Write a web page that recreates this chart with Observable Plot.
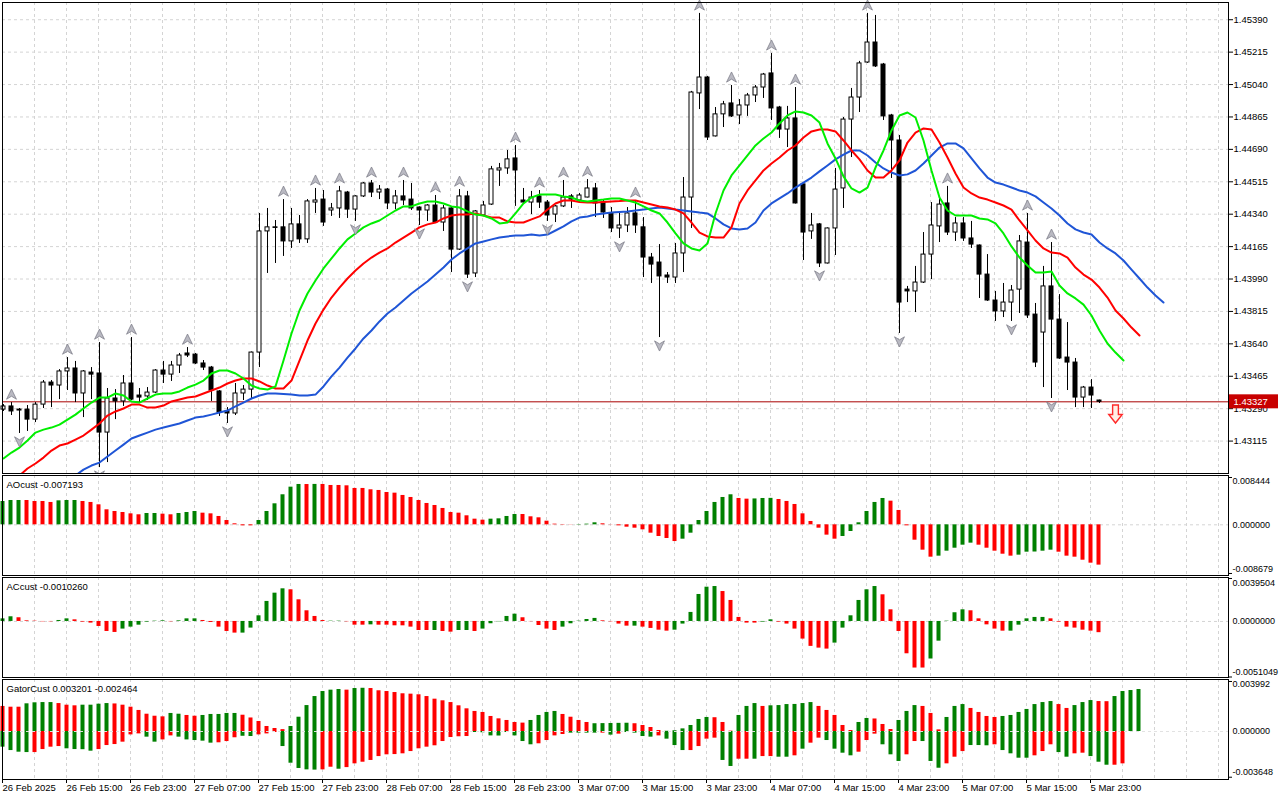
<!DOCTYPE html>
<html><head><meta charset="utf-8">
<script src="https://cdn.jsdelivr.net/npm/d3@7"></script>
<script src="https://cdn.jsdelivr.net/npm/@observablehq/plot@0.6"></script>
<style>
html,body{margin:0;padding:0;background:#fff;}
#chart{width:1280px;height:800px;overflow:hidden;position:relative;}
#chart svg{display:block;overflow:visible;}
</style></head><body><div id="chart"></div>
<script>
// ---- time axis ----
const xLabels = ["26 Feb 2025","26 Feb 15:00","26 Feb 23:00","27 Feb 07:00","27 Feb 15:00","27 Feb 23:00","28 Feb 07:00","28 Feb 15:00","28 Feb 23:00","3 Mar 07:00","3 Mar 15:00","3 Mar 23:00","4 Mar 07:00","4 Mar 15:00","4 Mar 23:00","5 Mar 07:00","5 Mar 15:00","5 Mar 23:00"];
const xLabelBars = [0,8,16,24,32,40,48,56,64,72,80,88,96,104,112,120,128,136];
// ---- price axis ----
const priceTicks = ["1.43115","1.43290","1.43465","1.43640","1.43815","1.43990","1.44165","1.44340","1.44515","1.44690","1.44865","1.45040","1.45215","1.45390"];
const lastPrice = 1.43327;
// ---- candles (H1) ----
const open = [1.43285,1.43302,1.43285,1.43285,1.43231,1.43312,1.43431,1.43415,1.43491,1.43507,
1.43372,1.43485,1.43480,1.43161,1.43345,1.43329,1.43426,1.43361,1.43356,1.43377,
1.43496,1.43474,1.43523,1.43588,1.43582,1.43534,1.43512,1.43383,1.43275,1.43264,
1.43372,1.43393,1.43593,1.44247,1.44269,1.44269,1.44193,1.44285,1.44204,1.44403,
1.44419,1.44360,1.44371,1.44457,1.44365,1.44436,1.44506,1.44457,1.44473,1.44398,
1.44436,1.44419,1.44376,1.44360,1.44387,1.44295,1.44371,1.44149,1.44436,1.44020,
1.44333,1.44392,1.44576,1.44587,1.44641,1.44414,1.44403,1.44436,1.44403,1.44338,
1.44382,1.44436,1.44414,1.44430,1.44479,1.44403,1.44344,1.44263,1.44279,1.44344,
1.44269,1.44106,1.44079,1.44009,1.43998,1.44128,1.44430,1.44992,1.45078,1.44760,
1.44879,1.44938,1.44873,1.44927,1.44981,1.45024,1.45100,1.44916,1.44797,1.44857,
1.44501,1.44247,1.44285,1.44074,1.44263,1.44479,1.44851,1.44970,1.45159,1.45267,
1.45148,1.44873,1.44738,1.43933,1.43923,1.43971,1.44122,1.44274,1.44398,1.44241,
1.44290,1.44209,1.44171,1.44014,1.43874,1.43815,1.43863,1.43933,1.44187,1.43798,
1.43701,1.43950,1.43771,1.43566,1.43539,1.43350,1.43404,1.43334];
const high = [1.43312,1.43323,1.43291,1.43307,1.43323,1.43442,1.43442,1.43501,1.43566,1.43545,
1.43496,1.43512,1.43647,1.43399,1.43393,1.43469,1.43674,1.43399,1.43404,1.43501,
1.43545,1.43545,1.43588,1.43620,1.43588,1.43550,1.43518,1.43388,1.43296,1.43426,
1.43415,1.43596,1.44344,1.44371,1.44306,1.44419,1.44371,1.44333,1.44419,1.44479,
1.44468,1.44398,1.44490,1.44463,1.44440,1.44511,1.44522,1.44495,1.44479,1.44468,
1.44522,1.44506,1.44380,1.44392,1.44441,1.44387,1.44376,1.44473,1.44463,1.44360,
1.44409,1.44598,1.44614,1.44684,1.44711,1.44479,1.44463,1.44468,1.44414,1.44387,
1.44522,1.44446,1.44452,1.44527,1.44506,1.44414,1.44376,1.44344,1.44376,1.44414,
1.44322,1.44128,1.44176,1.44025,1.44182,1.44538,1.45003,1.45424,1.45084,1.44916,
1.44949,1.45035,1.44959,1.44992,1.45035,1.45100,1.45208,1.44922,1.44922,1.45024,
1.44504,1.44344,1.44290,1.44266,1.44587,1.44862,1.45019,1.45165,1.45424,1.45413,
1.45154,1.44879,1.44765,1.43950,1.44058,1.44241,1.44403,1.44430,1.44490,1.44322,
1.44322,1.44301,1.44174,1.44122,1.43923,1.43966,1.43955,1.44225,1.44344,1.43858,
1.44058,1.44187,1.43906,1.43755,1.43561,1.43410,1.43447,1.43336];
const low = [1.43275,1.43253,1.43156,1.43167,1.43215,1.43291,1.43296,1.43339,1.43388,1.43323,
1.43242,1.43339,1.42972,1.42999,1.43231,1.43302,1.43334,1.43318,1.43334,1.43372,
1.43426,1.43437,1.43480,1.43566,1.43528,1.43496,1.43329,1.43248,1.43210,1.43253,
1.43334,1.43339,1.43512,1.44020,1.44074,1.44112,1.44155,1.44182,1.44182,1.44344,
1.44274,1.44328,1.44317,1.44317,1.44301,1.44430,1.44430,1.44419,1.44365,1.44365,
1.44387,1.44360,1.44279,1.44301,1.44290,1.44247,1.44025,1.44144,1.43993,1.43998,
1.44330,1.44387,1.44490,1.44555,1.44382,1.44398,1.44338,1.44371,1.44301,1.44295,
1.44376,1.44371,1.44398,1.44428,1.44322,1.44317,1.44241,1.44209,1.44241,1.44236,
1.43998,1.43966,1.43674,1.43966,1.43966,1.44025,1.44263,1.44905,1.44738,1.44757,
1.44808,1.44862,1.44824,1.44868,1.44943,1.44965,1.44846,1.44749,1.44700,1.44395,
1.44090,1.44204,1.44052,1.44071,1.44117,1.44371,1.44646,1.44889,1.45154,1.45132,
1.44846,1.44533,1.43696,1.43863,1.43809,1.43966,1.43987,1.44187,1.44225,1.44193,
1.44193,1.44155,1.43885,1.43869,1.43761,1.43782,1.43761,1.43804,1.43777,1.43512,
1.43404,1.43345,1.43556,1.43388,1.43296,1.43296,1.43291,1.43318];
const close = [1.43302,1.43275,1.43280,1.43231,1.43312,1.43431,1.43415,1.43491,1.43507,1.43372,
1.43491,1.43474,1.43161,1.43345,1.43329,1.43426,1.43339,1.43350,1.43377,1.43496,
1.43474,1.43523,1.43577,1.43577,1.43534,1.43512,1.43388,1.43269,1.43264,1.43372,
1.43393,1.43593,1.44247,1.44269,1.44266,1.44193,1.44285,1.44204,1.44409,1.44414,
1.44295,1.44371,1.44463,1.44365,1.44436,1.44506,1.44457,1.44473,1.44398,1.44436,
1.44414,1.44371,1.44360,1.44387,1.44295,1.44371,1.44149,1.44436,1.44014,1.44355,
1.44387,1.44582,1.44587,1.44636,1.44576,1.44403,1.44430,1.44403,1.44333,1.44382,
1.44430,1.44419,1.44441,1.44479,1.44398,1.44349,1.44263,1.44279,1.44344,1.44279,
1.44106,1.44068,1.44004,1.43998,1.44128,1.44430,1.44997,1.45078,1.44754,1.44879,
1.44933,1.44868,1.44927,1.44981,1.45024,1.45094,1.44911,1.44797,1.44857,1.44398,
1.44241,1.44279,1.44074,1.44263,1.44473,1.44851,1.44970,1.45154,1.45267,1.45138,
1.44868,1.44738,1.43863,1.43923,1.43971,1.44122,1.44279,1.44392,1.44241,1.44290,
1.44209,1.44176,1.44014,1.43874,1.43815,1.43863,1.43928,1.44193,1.43793,1.43539,
1.43950,1.43771,1.43561,1.43539,1.43350,1.43404,1.43361,1.43327];
// ---- Alligator (jaw / teeth / lips, already shifted) ----
const jawStart = 9;
const jaw = [1.42929,1.42961,1.42983,1.42999,1.43032,1.43064,1.43096,1.43129,1.43145,1.43161,
1.43177,1.43188,1.43199,1.43210,1.43226,1.43242,1.43248,1.43258,1.43269,1.43280,
1.43302,1.43323,1.43345,1.43361,1.43372,1.43372,1.43369,1.43366,1.43361,1.43361,
1.43366,1.43410,1.43464,1.43512,1.43566,1.43615,1.43669,1.43712,1.43761,1.43804,
1.43836,1.43874,1.43912,1.43944,1.43977,1.44014,1.44052,1.44095,1.44128,1.44155,
1.44182,1.44193,1.44204,1.44214,1.44220,1.44225,1.44225,1.44230,1.44225,1.44230,
1.44252,1.44274,1.44301,1.44322,1.44328,1.44338,1.44344,1.44349,1.44352,1.44355,
1.44360,1.44365,1.44371,1.44376,1.44371,1.44365,1.44360,1.44355,1.44349,1.44344,
1.44317,1.44285,1.44263,1.44258,1.44263,1.44295,1.44360,1.44398,1.44425,1.44452,
1.44484,1.44511,1.44538,1.44571,1.44603,1.44636,1.44662,1.44684,1.44684,1.44657,
1.44619,1.44587,1.44565,1.44549,1.44555,1.44576,1.44614,1.44657,1.44700,1.44722,
1.44722,1.44695,1.44641,1.44587,1.44538,1.44511,1.44500,1.44484,1.44468,1.44457,
1.44436,1.44403,1.44371,1.44333,1.44290,1.44258,1.44241,1.44230,1.44187,1.44155,
1.44128,1.44090,1.44041,1.43993,1.43944,1.43901,1.43863];
const teethStart = 2;
const teeth = [1.42929,1.42967,1.42994,1.43026,1.43064,1.43091,1.43102,1.43123,1.43145,1.43177,
1.43210,1.43253,1.43275,1.43291,1.43312,1.43312,1.43296,1.43296,1.43307,1.43329,
1.43339,1.43350,1.43356,1.43372,1.43388,1.43404,1.43426,1.43442,1.43453,1.43453,
1.43437,1.43415,1.43399,1.43399,1.43442,1.43550,1.43658,1.43750,1.43825,1.43890,
1.43944,1.43993,1.44036,1.44074,1.44106,1.44133,1.44155,1.44187,1.44214,1.44241,
1.44269,1.44285,1.44295,1.44317,1.44333,1.44338,1.44338,1.44344,1.44333,1.44322,
1.44322,1.44301,1.44295,1.44295,1.44312,1.44328,1.44365,1.44398,1.44414,1.44414,
1.44406,1.44403,1.44403,1.44406,1.44409,1.44411,1.44414,1.44414,1.44403,1.44392,
1.44382,1.44376,1.44365,1.44344,1.44295,1.44241,1.44220,1.44214,1.44214,1.44269,
1.44398,1.44468,1.44522,1.44576,1.44614,1.44646,1.44684,1.44711,1.44754,1.44787,
1.44797,1.44797,1.44787,1.44738,1.44684,1.44636,1.44576,1.44538,1.44538,1.44576,
1.44630,1.44727,1.44781,1.44803,1.44797,1.44727,1.44646,1.44560,1.44484,1.44452,
1.44430,1.44419,1.44403,1.44387,1.44365,1.44306,1.44252,1.44198,1.44155,1.44133,
1.44128,1.44106,1.44052,1.44014,1.43987,1.43944,1.43890,1.43820,1.43777,1.43728,
1.43685];
const lipsStart = 0;
const lips = [1.43021,1.43053,1.43080,1.43118,1.43161,1.43177,1.43188,1.43204,1.43231,1.43258,
1.43291,1.43323,1.43350,1.43350,1.43372,1.43361,1.43329,1.43323,1.43345,1.43366,
1.43372,1.43372,1.43383,1.43404,1.43420,1.43442,1.43480,1.43496,1.43496,1.43480,
1.43453,1.43415,1.43399,1.43393,1.43410,1.43550,1.43696,1.43820,1.43912,1.43982,
1.44047,1.44101,1.44155,1.44204,1.44236,1.44269,1.44290,1.44306,1.44333,1.44360,
1.44382,1.44382,1.44398,1.44409,1.44409,1.44398,1.44382,1.44376,1.44355,1.44338,
1.44333,1.44317,1.44290,1.44295,1.44344,1.44398,1.44430,1.44446,1.44446,1.44446,
1.44436,1.44430,1.44414,1.44409,1.44414,1.44419,1.44425,1.44425,1.44414,1.44403,
1.44382,1.44360,1.44344,1.44295,1.44236,1.44182,1.44155,1.44144,1.44182,1.44344,
1.44468,1.44549,1.44603,1.44657,1.44711,1.44749,1.44781,1.44830,1.44873,1.44895,
1.44889,1.44873,1.44835,1.44722,1.44641,1.44544,1.44479,1.44457,1.44484,1.44592,
1.44684,1.44792,1.44873,1.44889,1.44862,1.44738,1.44576,1.44430,1.44360,1.44333,
1.44333,1.44333,1.44317,1.44312,1.44290,1.44236,1.44166,1.44106,1.44063,1.44025,
1.44025,1.44031,1.43955,1.43912,1.43885,1.43852,1.43793,1.43712,1.43642,1.43593,
1.43550];
// ---- fractals & signal ----
const fractalUp = [1,8,12,16,23,35,39,42,46,50,54,57,64,67,70,73,79,87,91,96,99,108,118,128,131];
const fractalDown = [2,12,28,44,52,58,68,77,82,102,112,126,131];
const signalBar = 139, signalPrice = 1.43261;
// ---- AO ----
const aoLabel = "AOcust -0.007193";
const aoScale = ["0.008444","0.000000","-0.008679"];
const ao = [0.00416,0.00434,0.00434,0.00434,0.00416,0.00416,0.00399,0.00428,0.00434,0.00434,
0.00416,0.00399,0.00357,0.00268,0.00238,0.00220,0.00196,0.00179,0.00202,0.00202,
0.00190,0.00179,0.00202,0.00220,0.00238,0.00208,0.00196,0.00149,0.00077,0.00018,
-0.00018,-0.00018,0.00077,0.00238,0.00375,0.00536,0.00672,0.00720,0.00719,0.00721,
0.00720,0.00702,0.00702,0.00696,0.00649,0.00649,0.00625,0.00613,0.00577,0.00565,
0.00524,0.00488,0.00434,0.00381,0.00345,0.00292,0.00220,0.00208,0.00161,0.00101,
0.00083,0.00101,0.00107,0.00149,0.00184,0.00184,0.00143,0.00125,0.00065,0.00012,
0.00006,0.00003,0.00006,0.00012,0.00036,0.00018,-0.00003,-0.00018,-0.00042,-0.00060,
-0.00089,-0.00149,-0.00208,-0.00244,-0.00298,-0.00256,-0.00149,0.00077,0.00238,0.00399,
0.00488,0.00536,0.00470,0.00458,0.00462,0.00470,0.00472,0.00452,0.00417,0.00363,
0.00196,0.00060,-0.00060,-0.00184,-0.00256,-0.00208,-0.00119,0.00036,0.00238,0.00399,
0.00470,0.00422,0.00256,-0.00018,-0.00274,-0.00452,-0.00577,-0.00559,-0.00470,-0.00417,
-0.00363,-0.00327,-0.00363,-0.00417,-0.00470,-0.00524,-0.00559,-0.00541,-0.00488,-0.00485,
-0.00470,-0.00452,-0.00488,-0.00559,-0.00577,-0.00631,-0.00684,-0.00719];
const aoColors = "GGGRRRRGGG"+"RRRRRRRRGG"+"RRGGGRRRRR"+"RRGGGGGGRG"+"RRRRRRRRRR"+"RRRRRRRRRR"+"RGGGGRRRRR"+"RRGGGRRRRR"+"RRRRRGGGGG"+"GGRRGGGRRR"+"RRRRRGGGGG"+"GRRRRRRGGG"+"GGRRRRRGGG"+"GGRRRRRR";
// ---- AC ----
const acLabel = "ACcust -0.0010260";
const acScale = ["0.0039504","0.0000000","-0.0051049"];
const ac = [0.00024,0.00043,0.00034,0.00006,0.00003,-0.00003,-0.00003,0.00009,0.00024,0.00015,
-0.00006,-0.00015,-0.00046,-0.00092,-0.00101,-0.00070,-0.00052,-0.00034,-0.00006,0.00003,
0.00006,-0.00003,0.00006,0.00024,0.00024,0.00009,-0.00009,-0.00052,-0.00092,-0.00107,
-0.00107,-0.00061,0.00052,0.00184,0.00260,0.00300,0.00291,0.00199,0.00098,0.00046,
0.00009,0.00003,0.00003,-0.00003,-0.00034,-0.00034,-0.00031,-0.00034,-0.00034,-0.00040,
-0.00040,-0.00052,-0.00083,-0.00083,-0.00083,-0.00092,-0.00098,-0.00083,-0.00083,-0.00092,
-0.00070,-0.00021,-0.00003,0.00046,0.00067,0.00034,-0.00002,-0.00037,-0.00070,-0.00083,
-0.00052,-0.00021,0.00003,0.00018,0.00028,0.00006,-0.00003,-0.00024,-0.00043,-0.00043,
-0.00052,-0.00064,-0.00080,-0.00089,-0.00080,-0.00024,0.00083,0.00248,0.00315,0.00321,
0.00275,0.00193,0.00037,-0.00015,-0.00015,-0.00006,0.00015,-0.00006,-0.00024,-0.00070,
-0.00162,-0.00229,-0.00245,-0.00254,-0.00199,-0.00061,0.00052,0.00193,0.00291,0.00321,
0.00245,0.00107,-0.00092,-0.00297,-0.00428,-0.00428,-0.00345,-0.00181,0.00003,0.00080,
0.00107,0.00098,0.00024,-0.00031,-0.00070,-0.00089,-0.00089,-0.00034,0.00024,0.00037,
0.00037,0.00024,-0.00006,-0.00052,-0.00061,-0.00080,-0.00089,-0.00103];
const acColors = "GGRRRRRGGR"+"RRRRRGGGGG"+"GRGGGRRRRR"+"GGGGGGRRRR"+"RGGRRRGRRR"+"RRRRGRRGGR"+"GGGGGRRRRR"+"GGGGGRRRRG"+"RRRRGGGGGG"+"RRRRRGGRRR"+"RRRRGGGGGG"+"RRRRRRGGGG"+"GRRRRRGGGG"+"GRRRRRRR";
// ---- Gator ----
const gatorLabel = "GatorCust 0.003201 -0.002464";
const gatorScale = ["0.003992","0.000000","-0.003648"];
const gatorUp = [0.00200,0.00194,0.00194,0.00221,0.00229,0.00231,0.00231,0.00223,0.00210,0.00205,
0.00210,0.00210,0.00218,0.00223,0.00220,0.00210,0.00194,0.00168,0.00138,0.00122,
0.00117,0.00144,0.00138,0.00128,0.00122,0.00128,0.00136,0.00136,0.00144,0.00144,
0.00130,0.00108,0.00080,0.00040,0.00024,0.00015,0.00040,0.00114,0.00207,0.00279,
0.00319,0.00330,0.00335,0.00330,0.00343,0.00345,0.00343,0.00325,0.00319,0.00311,
0.00301,0.00298,0.00293,0.00279,0.00258,0.00245,0.00231,0.00205,0.00181,0.00160,
0.00152,0.00120,0.00101,0.00088,0.00072,0.00067,0.00088,0.00128,0.00152,0.00160,
0.00136,0.00114,0.00088,0.00072,0.00062,0.00063,0.00064,0.00065,0.00066,0.00062,
0.00048,0.00032,0.00008,0.00002,0.00006,0.00021,0.00048,0.00096,0.00112,0.00110,
0.00072,0.00003,0.00128,0.00200,0.00223,0.00200,0.00205,0.00207,0.00215,0.00216,
0.00223,0.00231,0.00200,0.00168,0.00128,0.00048,0.00008,0.00072,0.00104,0.00100,
0.00056,0.00016,0.00088,0.00160,0.00207,0.00200,0.00144,0.00013,0.00112,0.00200,
0.00215,0.00184,0.00152,0.00120,0.00112,0.00120,0.00128,0.00152,0.00176,0.00215,
0.00231,0.00239,0.00215,0.00184,0.00207,0.00231,0.00247,0.00239,0.00238,0.00279,
0.00319,0.00327,0.00335];
const gatorUpColors = "RRRGGGGRRR"+"GGGGRRRRRR"+"RGGRRGGGGG"+"RRRRRRGGGG"+"GGGRGGRRRR"+"RRRRRRRRRR"+"RRRRRRGGGG"+"RRRRGGGGGR"+"RRRGGGGGGR"+"RRGGGRGGGG"+"GGRRRRRGGR"+"RRGGGRRRGG"+"GRRRRGGGGG"+"GGRRGGGRRG"+"GGG";
const gatorDn = [-0.00125,-0.00152,-0.00165,-0.00168,-0.00168,-0.00144,-0.00125,-0.00120,-0.00138,-0.00144,
-0.00145,-0.00157,-0.00144,-0.00112,-0.00104,-0.00085,-0.00027,-0.00019,-0.00045,-0.00085,
-0.00067,-0.00035,-0.00045,-0.00067,-0.00072,-0.00077,-0.00093,-0.00090,-0.00080,-0.00050,
-0.00038,-0.00040,-0.00027,-0.00019,-0.00008,-0.00120,-0.00253,-0.00295,-0.00306,-0.00308,
-0.00306,-0.00285,-0.00301,-0.00288,-0.00258,-0.00245,-0.00231,-0.00200,-0.00186,-0.00184,
-0.00178,-0.00160,-0.00138,-0.00125,-0.00114,-0.00080,-0.00048,-0.00042,-0.00040,-0.00008,
-0.00010,-0.00035,-0.00036,-0.00008,-0.00035,-0.00080,-0.00106,-0.00098,-0.00072,-0.00035,
-0.00024,-0.00013,-0.00013,-0.00013,-0.00013,-0.00013,-0.00029,-0.00021,-0.00008,-0.00013,
-0.00040,-0.00045,-0.00035,-0.00061,-0.00112,-0.00152,-0.00152,-0.00120,-0.00061,-0.00053,
-0.00231,-0.00279,-0.00221,-0.00221,-0.00221,-0.00200,-0.00200,-0.00205,-0.00205,-0.00194,
-0.00141,-0.00093,-0.00053,-0.00072,-0.00141,-0.00173,-0.00194,-0.00165,-0.00072,-0.00021,
-0.00106,-0.00186,-0.00239,-0.00186,-0.00080,-0.00080,-0.00239,-0.00293,-0.00258,-0.00205,
-0.00160,-0.00112,-0.00112,-0.00114,-0.00106,-0.00152,-0.00178,-0.00213,-0.00213,-0.00194,
-0.00160,-0.00106,-0.00168,-0.00205,-0.00178,-0.00173,-0.00200,-0.00245,-0.00269,-0.00269,
-0.00258];
const gatorDnColors = "GGGGRRRRGG"+"GGRRRRRRGG"+"RRGGGGGRRR"+"GGRRRGGGGG"+"RRGRRRRRRR"+"RRRRRRRRRG"+"GGGGGGGRRR"+"RGGGGRGRGG"+"GGRGGGRRRR"+"GGRRGRRGGR"+"GRRGGGGRRR"+"GGGRRGGGRR"+"RGGGRGGGGR"+"RRGGRRGGGR"+"R";

// ================= drawing =================
const GREEN = "#008000", RED = "#ff0000";
const FONT = {fontFamily: "'Liberation Sans', Arial, sans-serif", fontSize: "9.5px", color: "black", background: "white"};
const xDomain = [-0.125, 153.125];
const gridBars = d3.range(1, 39).map(k => 4 * k - 0.125);
const dash = {stroke: "#d4d4d4", strokeOpacity: 1, strokeDasharray: "3,3"};

const candles = open.map((o, i) => ({i, o, h: high[i], l: low[i], c: close[i]}));
const series = (start, arr) => arr.map((v, k) => ({i: start + k, v}));
const bars = (arr, cols) => arr.map((v, i) => ({i, v, col: cols[i] === "G" ? GREEN : RED}));

const upSym = {draw(ctx, size) { const r = Math.sqrt(size / Math.PI);
  ctx.moveTo(0, -r); ctx.lineTo(0.9 * r, 0.85 * r); ctx.lineTo(0, 0.3 * r); ctx.lineTo(-0.9 * r, 0.85 * r); ctx.closePath(); }};
const downSym = {draw(ctx, size) { const r = Math.sqrt(size / Math.PI);
  ctx.moveTo(0, r); ctx.lineTo(0.9 * r, -0.85 * r); ctx.lineTo(0, -0.3 * r); ctx.lineTo(-0.9 * r, -0.85 * r); ctx.closePath(); }};
const signalSym = {draw(ctx, size) { const r = Math.sqrt(size / Math.PI);
  ctx.moveTo(-0.32 * r, -r); ctx.lineTo(0.32 * r, -r); ctx.lineTo(0.32 * r, 0.05 * r); ctx.lineTo(0.75 * r, 0.05 * r);
  ctx.lineTo(0, r); ctx.lineTo(-0.75 * r, 0.05 * r); ctx.lineTo(-0.32 * r, 0.05 * r); ctx.closePath(); }};

const priceVals = priceTicks.map(Number);

const main = Plot.plot({
  width: 1280, height: 474, marginLeft: 2, marginRight: 52, marginTop: 2, marginBottom: 1,
  x: {domain: xDomain, axis: null},
  y: {domain: [1.42940, 1.45483]},
  style: FONT,
  marks: [
    Plot.gridX(gridBars, dash),
    Plot.gridY(priceVals, dash),
    Plot.ruleY([lastPrice], {stroke: "#a80000", strokeWidth: 1}),
    Plot.ruleX(candles, {x: "i", y1: "l", y2: "h", stroke: "black", strokeWidth: 1}),
    Plot.rect(candles, {x1: d => d.i - 0.25, x2: d => d.i + 0.25,
      y1: d => Math.min(d.o, d.c), y2: d => Math.max(d.o, d.c),
      fill: d => d.c > d.o ? "white" : "black", stroke: "black", strokeWidth: 1}),
    Plot.line(series(jawStart, jaw), {x: "i", y: "v", stroke: "#1f55d6", strokeWidth: 2, clip: true}),
    Plot.line(series(teethStart, teeth), {x: "i", y: "v", stroke: "#ff0000", strokeWidth: 2, clip: true}),
    Plot.line(series(lipsStart, lips), {x: "i", y: "v", stroke: "#00ee00", strokeWidth: 2, clip: true}),
    Plot.dot(fractalUp, {x: d => d, y: d => high[d], dy: -8, r: 5.5, symbol: upSym, fill: "#b9b9c2", stroke: "#80808c", strokeWidth: 0.8}),
    Plot.dot(fractalDown, {x: d => d, y: d => low[d], dy: 8, r: 5.5, symbol: downSym, fill: "#b9b9c2", stroke: "#80808c", strokeWidth: 0.8, clip: true}),
    Plot.dot([{i: signalBar, p: signalPrice}], {x: "i", y: "p", r: 9, symbol: signalSym, fill: "#fff0e6", stroke: "#ff2a2a", strokeWidth: 1.4}),
    Plot.frame({stroke: "black"}),
    Plot.axisY(priceVals, {anchor: "right", tickSize: 4, tickPadding: 1, tickFormat: d => d.toFixed(5), stroke: "black"}),
    Plot.rect([lastPrice], {x1: xDomain[1], x2: xDomain[1], y1: d => d, y2: d => d,
      insetLeft: 1, insetRight: -50, insetTop: -7, insetBottom: -7, fill: "#c80000"}),
    Plot.text([lastPrice], {y: d => d, frameAnchor: "right", dx: 5, textAnchor: "start", text: d => d.toFixed(5), fill: "white"})
  ]
});

function subPanel({height, marginBottom, domain, data, label, scaleTexts, dyTop, dyBottom, zeroOnTop, extra = []}) {
  const scaleVals = scaleTexts.map(Number);
  const zeroRule = Plot.ruleY([0], {stroke: zeroOnTop ? "#e2e2e2" : "#d4d4d4", strokeDasharray: "3,3"});
  const barMarks = data.map(d => Plot.rect(d, {x1: e => e.i - 0.3125, x2: e => e.i + 0.1875, y1: () => 0, y2: "v", fill: "col"}));
  const scaleFont = {fontSize: 9, fill: "black", textAnchor: "start", frameAnchor: "right", dx: 4};
  return Plot.plot({
    width: 1280, height, marginLeft: 2, marginRight: 52, marginTop: 1, marginBottom,
    x: {domain: xDomain, axis: extra.length ? undefined : null},
    y: {domain, axis: null},
    style: FONT,
    marks: [
      Plot.gridX(gridBars, dash),
      ...(zeroOnTop ? [] : [zeroRule]),
      ...barMarks,
      ...(zeroOnTop ? [zeroRule] : []),
      Plot.frame({stroke: "black"}),
      Plot.ruleY([scaleVals[0], scaleVals[2]], {x1: xDomain[1], x2: xDomain[1], insetRight: -4, stroke: "black"}),
      Plot.text([scaleTexts[0]], {y: scaleVals[0], dy: dyTop, ...scaleFont}),
      Plot.text([scaleTexts[1]], {y: 0, ...scaleFont}),
      Plot.text([scaleTexts[2]], {y: scaleVals[2], dy: dyBottom, ...scaleFont}),
      Plot.text([label], {frameAnchor: "top-left", dx: 4, dy: 9, textAnchor: "start", lineAnchor: "middle", fill: "black"}),
      ...extra
    ]
  });
}

const aoPlot = subPanel({height: 102, marginBottom: 1, domain: [-0.00904, 0.00880],
  data: [bars(ao, aoColors)], label: aoLabel, scaleTexts: aoScale, dyTop: 4, dyBottom: -4});
const acPlot = subPanel({height: 102, marginBottom: 1, domain: [-0.00515, 0.00404],
  data: [bars(ac, acColors)], label: acLabel, scaleTexts: acScale, dyTop: 5, dyBottom: -5});
const gatorPlot = subPanel({height: 122, marginBottom: 21, domain: [-0.00383, 0.00415],
  data: [bars(gatorUp, gatorUpColors), bars(gatorDn, gatorDnColors)], label: gatorLabel,
  scaleTexts: gatorScale, dyTop: 3, dyBottom: -5, zeroOnTop: true,
  extra: [Plot.axisX(xLabelBars, {anchor: "bottom", tickSize: 4, tickPadding: 1, textAnchor: "start", dx: -1,
    tickFormat: d => xLabels[xLabelBars.indexOf(d)], stroke: "black", fill: "black"})]});

const root = document.getElementById("chart");
root.append(main, aoPlot, acPlot, gatorPlot);
</script>
</body></html>
